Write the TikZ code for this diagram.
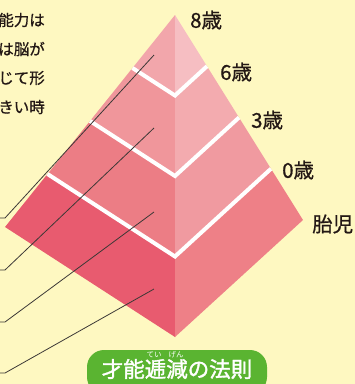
\documentclass[tikz,border=0pt]{standalone}
\usepackage{fontspec}
\newfontfamily\jpfont[FakeBold=0.8]{Noto Sans CJK JP}
\newfontfamily\jptitle[FakeBold=1.6]{Noto Sans CJK JP}
\newfontfamily\jpruby{Noto Sans CJK JP}
\usetikzlibrary{calc}
\definecolor{bgyellow}{HTML}{FEF8C1}
\definecolor{bandAl}{HTML}{F2A6AB}
\definecolor{bandAr}{HTML}{F6BEC2}
\definecolor{bandBl}{HTML}{F0969B}
\definecolor{bandBr}{HTML}{F3ABAF}
\definecolor{bandCl}{HTML}{EC7D85}
\definecolor{bandCr}{HTML}{F09AA0}
\definecolor{bandDl}{HTML}{E85B6F}
\definecolor{bandDr}{HTML}{EE8087}
\definecolor{inkdark}{HTML}{231815}
\definecolor{leadergray}{HTML}{3C3836}
\definecolor{titlegreen}{HTML}{5AB431}

\tikzset{
  agelabel/.style={anchor=west, inner sep=0pt, text=inkdark, font=\jpfont\fontsize{20.5}{20.5}\selectfont},
  bodytext/.style={anchor=east, inner sep=0pt, text=inkdark, font=\jpfont\fontsize{15.5}{15.5}\selectfont},
  titletext/.style={inner sep=0pt, text=white, font=\jptitle\fontsize{21.5}{21.5}\selectfont},
  rubytext/.style={inner sep=0pt, text=white, font=\jpruby\fontsize{7.5}{7.5}\selectfont},
  leader/.style={leadergray, line width=0.8pt},
  levelline/.style={white, line width=4pt, line join=miter}
}

\begin{document}
\begin{tikzpicture}[x=1pt,y=-1pt]
            \useasboundingbox (0,0) rectangle (355,384);
            \clip (0,0) rectangle (355,384);
            \fill[bgyellow] (0,0) rectangle (355,384);

            \coordinate (Apex)  at (175,15);
            \coordinate (Left)  at (5,227);
            \coordinate (Bot)   at (175,337);
            \coordinate (Right) at (303,220);

            % bands, top to bottom
            \foreach \ta/\tb/\cl/\cr in {0/0.25/bandAl/bandAr, 0.25/0.5/bandBl/bandBr, 0.5/0.75/bandCl/bandCr, 0.75/1/bandDl/bandDr} {
                \fill[\cl] ($(Apex)!\ta!(Left)$) -- ($(Apex)!\tb!(Left)$) -- ($(Apex)!\tb!(Bot)$) -- ($(Apex)!\ta!(Bot)$) -- cycle;
                \fill[\cr] ($(Apex)!\ta!(Bot)$) -- ($(Apex)!\tb!(Bot)$) -- ($(Apex)!\tb!(Right)$) -- ($(Apex)!\ta!(Right)$) -- cycle;
            }
            % white level lines
            \foreach \t in {0.25,0.5,0.75}
                \draw[levelline] ($(Apex)!\t!(Left)$) -- ($(Apex)!\t!(Bot)$) -- ($(Apex)!\t!(Right)$);

            % leader lines
            \coordinate (Tip1) at (154,55);
            \coordinate (Tip2) at (154,128);
            \coordinate (Tip3) at (154,212);
            \coordinate (Tip4) at (154,289);
            \coordinate (Knee1) at (5,218);
            \coordinate (Knee2) at (5,270);
            \coordinate (Knee3) at (5,322);
            \coordinate (Knee4) at (5,373);
            \foreach \i in {1,2,3,4}
                \draw[leader] (Tip\i) -- (Knee\i) -- ++(-8,0);

            % age labels
            \node[agelabel] (age8)  at (190,20)  {8歳};
            \node[agelabel] (age6)  at (220,72)  {6歳};
            \node[agelabel] (age3)  at (251,120) {3歳};
            \node[agelabel] (age0)  at (282,170) {0歳};
            \node[agelabel] (fetus) at (312,224) {胎児};

            % cropped text, top left
            \node[bodytext] (line1) at (45,20)  {能力は};
            \node[bodytext] (line2) at (45,49)  {は脳が};
            \node[bodytext] (line3) at (45,78)  {じて形};
            \node[bodytext] (line4) at (45,107) {きい時};

            % title
            \node[fill=titlegreen, rounded corners=17pt, minimum width=180pt, minimum height=44pt, inner sep=0pt] (pill) at (177,372) {};
            \node[titletext] (title) at (177,369) {才能逓減の法則};
            \node[rubytext] (ruby1) at (154,355) {てい};
            \node[rubytext] (ruby2) at (176,355) {げん};
\end{tikzpicture}
\end{document}
